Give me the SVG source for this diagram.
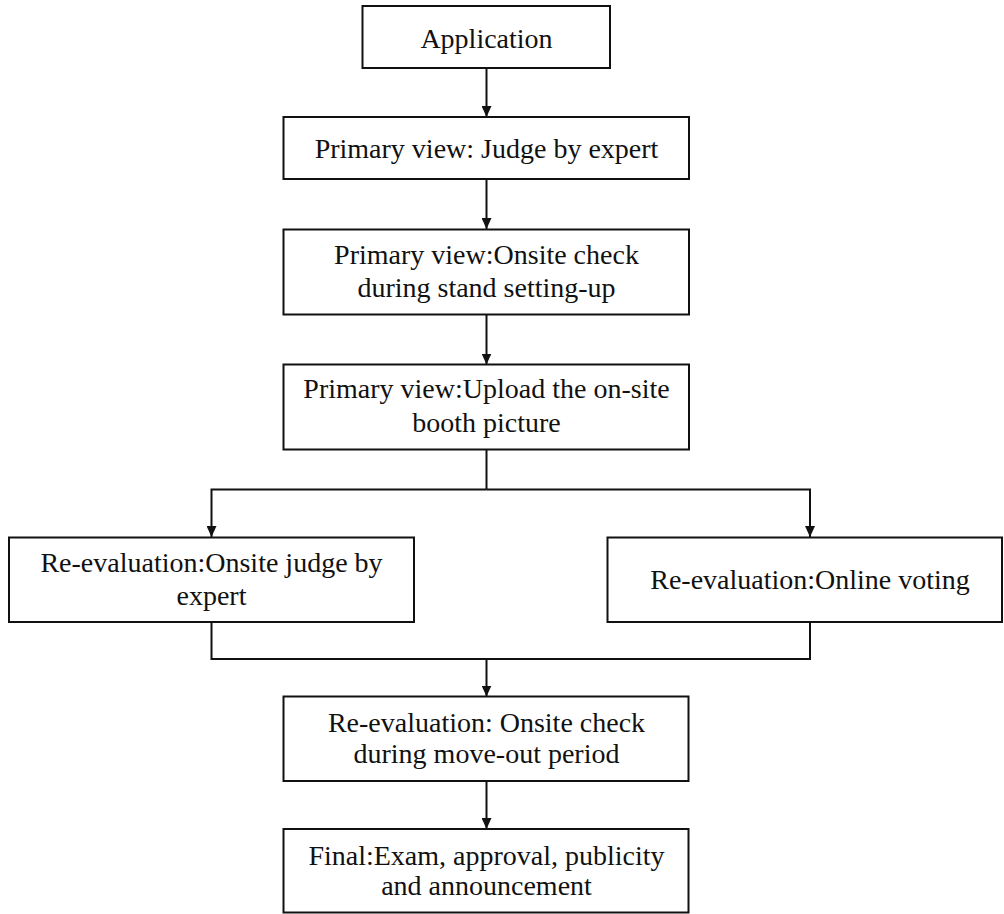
<svg xmlns="http://www.w3.org/2000/svg" width="1004" height="914" viewBox="0 0 1004 914">
<style>
.box{fill:#fff;stroke:#111;stroke-width:2}
.lbl{font-family:"Liberation Serif","Times New Roman",serif;font-size:28px;fill:#111;text-anchor:middle}
.ln{fill:none;stroke:#111;stroke-width:2}
</style>
<defs>
<marker id="ah" viewBox="0 0 11 10" markerWidth="11" markerHeight="10" refX="11" refY="5" orient="auto" markerUnits="userSpaceOnUse">
<path d="M0,0 L11,5 L0,10 z" fill="#111"/>
</marker>
</defs>
<rect width="1004" height="914" fill="#fff"/>
<g id="connectors">
<line class="ln" x1="486.5" y1="68" x2="486.5" y2="117" marker-end="url(#ah)"/>
<line class="ln" x1="486.5" y1="179" x2="486.5" y2="229" marker-end="url(#ah)"/>
<line class="ln" x1="486.5" y1="314" x2="486.5" y2="364.5" marker-end="url(#ah)"/>
<polyline class="ln" points="486.5,449 486.5,489.5"/>
<polyline class="ln" points="486.5,489.5 211.5,489.5 211.5,537" marker-end="url(#ah)"/>
<polyline class="ln" points="486.5,489.5 810,489.5 810,537" marker-end="url(#ah)"/>
<polyline class="ln" points="211.5,622 211.5,659 810,659 810,622"/>
<line class="ln" x1="486.5" y1="659" x2="486.5" y2="696.5" marker-end="url(#ah)"/>
<line class="ln" x1="486.5" y1="781" x2="486.5" y2="829" marker-end="url(#ah)"/>
</g>
<g id="n1"><rect class="box" x="362.5" y="6" width="247.5" height="62"/><text class="lbl" x="486.5" y="48">Application</text></g>
<g id="n2"><rect class="box" x="283.5" y="117" width="405.5" height="62"/><text class="lbl" x="486.5" y="158">Primary view: Judge by expert</text></g>
<g id="n3"><rect class="box" x="283.5" y="229.5" width="405.5" height="85"/><text class="lbl" x="486.5" y="264">Primary view:Onsite check</text><text class="lbl" x="486.5" y="297">during stand setting-up</text></g>
<g id="n4"><rect class="box" x="283.5" y="364.5" width="405.5" height="85"/><text class="lbl" x="486.5" y="398">Primary view:Upload the on-site</text><text class="lbl" x="486.5" y="431.5">booth picture</text></g>
<g id="n5"><rect class="box" x="9" y="537.5" width="405" height="84.5"/><text class="lbl" x="211.5" y="572">Re-evaluation:Onsite judge by</text><text class="lbl" x="211.5" y="605">expert</text></g>
<g id="n6"><rect class="box" x="607.5" y="537.5" width="394.5" height="84.5"/><text class="lbl" x="810" y="588.5">Re-evaluation:Online voting</text></g>
<g id="n7"><rect class="box" x="283.5" y="696.5" width="405" height="84.5"/><text class="lbl" x="486.5" y="732">Re-evaluation: Onsite check</text><text class="lbl" x="486.5" y="763">during move-out period</text></g>
<g id="n8"><rect class="box" x="283.5" y="829" width="405" height="83.5"/><text class="lbl" x="486.5" y="865">Final:Exam, approval, publicity</text><text class="lbl" x="486.5" y="895">and announcement</text></g>
</svg>
